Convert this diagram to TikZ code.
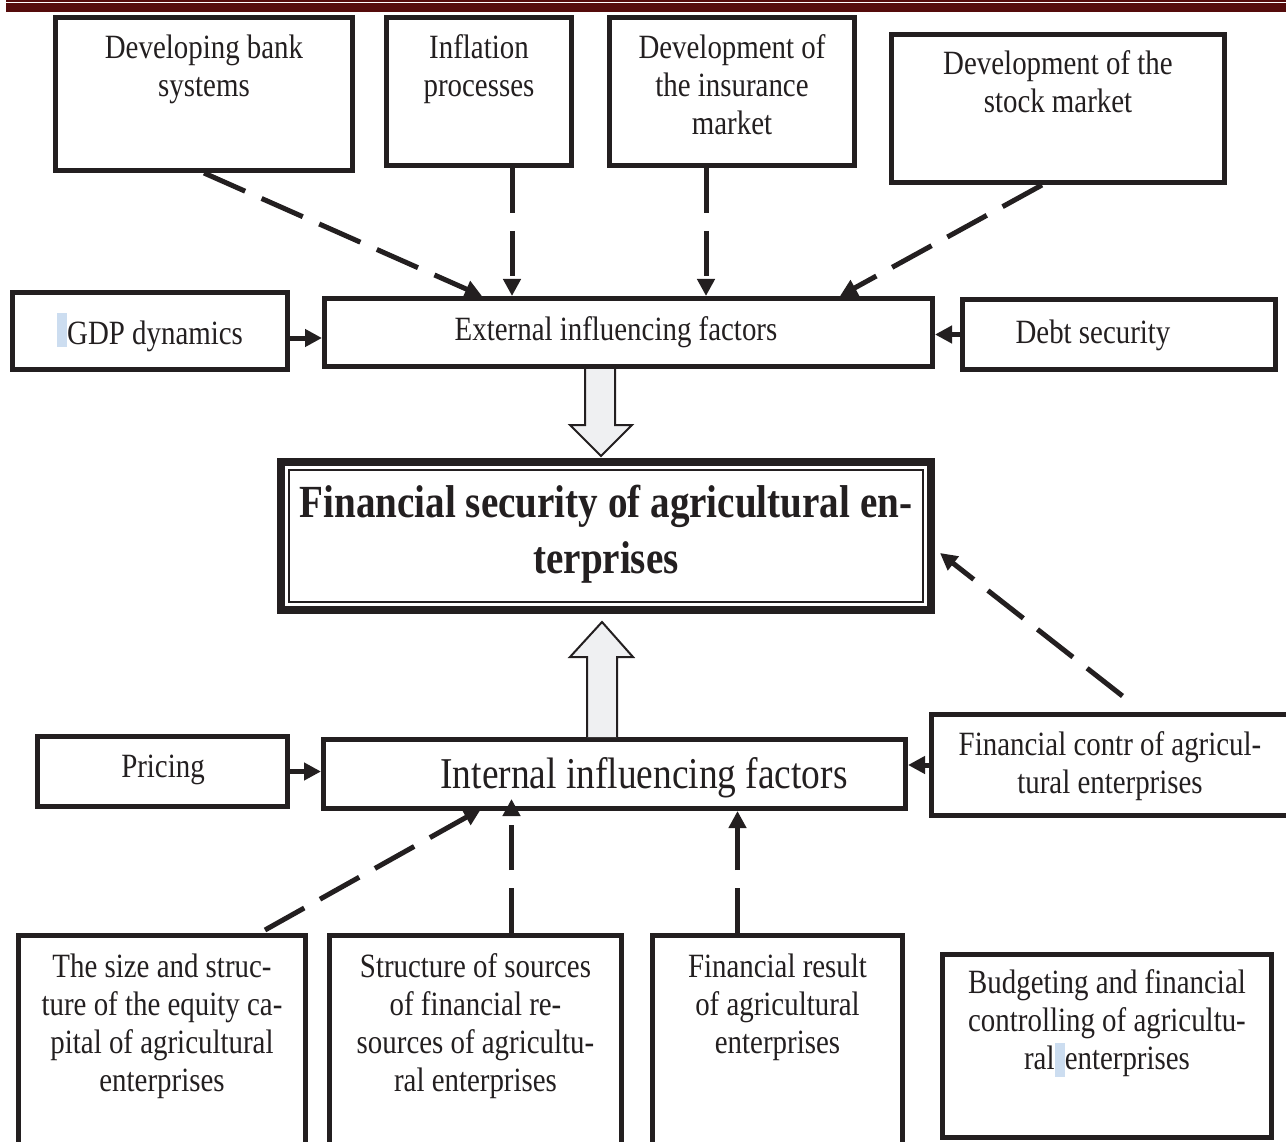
\documentclass[tikz,border=0pt]{standalone}
\usepackage{fontspec}
\setmainfont{Liberation Serif}[FakeStretch=0.85]
\usetikzlibrary{arrows.meta,calc}
\definecolor{ink}{HTML}{231F20}
\definecolor{barred}{HTML}{550C0C}
\definecolor{hlblue}{HTML}{CCDDF0}
\definecolor{hollowfill}{HTML}{EFF0F2}
\newcommand{\Tst}{\rule{0pt}{0.75em}}
\newcommand{\hlmark}[1]{\textcolor{hlblue}{\rule[#1]{0.3em}{1em}}}
\begin{document}
\begin{tikzpicture}[x=1pt,y=-1pt,
  box/.style={draw=ink,line width=5pt,fill=white,inner sep=0pt},
  txt/.style={text=ink,font=\fontsize{34}{38}\selectfont,align=center,inner sep=0pt,anchor=north},
  conn/.style={draw=ink,line width=5pt,-{Triangle[length=17pt,width=17pt]}},
  dconn/.style={conn,dash pattern=on 45pt off 18pt},
  hollowarrow/.style={draw=ink,line width=2pt,fill=hollowfill,line join=miter}]
\useasboundingbox (0,0) rectangle (1286,1142);
\fill[white] (0,0) rectangle (1286,1142);
% header rule
\fill[barred] (6,3.5) rectangle (1286,12);
\draw[barred,line width=1.2pt] (6,1) -- (1286,1);
% row 1
\node[box,minimum width=297pt,minimum height=153pt] (A) at (204,94) {};
\node[box,minimum width=185pt,minimum height=148pt] (B) at (479,91.5) {};
\node[box,minimum width=245pt,minimum height=148pt] (C) at (732,91.5) {};
\node[box,minimum width=333pt,minimum height=148pt] (D) at (1058,108.5) {};
% row 2
\node[box,minimum width=275pt,minimum height=77pt] (GDP) at (150,331) {};
\node[box,minimum width=608pt,minimum height=68pt] (Ext) at (628.5,332.5) {};
\node[box,minimum width=313pt,minimum height=70pt] (Debt) at (1119,334.5) {};
% centre
\node[draw=ink,line width=8pt,fill=white,inner sep=0pt,minimum width=650pt,minimum height=148pt] (Cen) at (606,536) {};
\draw[ink,line width=1.5pt] ($(Cen.north west)+(12,12)$) rectangle ($(Cen.south east)+(-12,-12)$);
% internal row
\node[box,minimum width=250pt,minimum height=70pt] (Pri) at (162.5,771.5) {};
\node[box,minimum width=582pt,minimum height=69pt] (Int) at (614.5,774) {};
\node[box,minimum width=358pt,minimum height=101pt] (FC) at (1110.5,765) {};
% bottom row
\node[box,minimum width=287pt,minimum height=227pt] (E) at (162,1049) {};
\node[box,minimum width=292pt,minimum height=227pt] (F) at (475.5,1049) {};
\node[box,minimum width=250pt,minimum height=227pt] (G) at (777.5,1049) {};
\node[box,minimum width=329pt,minimum height=183pt] (H) at (1107,1046) {};
% connectors to external
\draw[dconn] (A.south) -- ($(Ext.north west)+(160,0)$);
\coordinate (b1) at ($(B.south)+(33,0)$);
\draw[dconn] (b1) -- (b1 |- Ext.north);
\coordinate (c1) at ($(C.south)+(-26,0)$);
\draw[dconn] (c1) -- (c1 |- Ext.north);
\draw[dconn] ($(D.south)+(-16,0)$) -- ($(Ext.north east)+(-95,0)$);
\coordinate (g1) at ($(GDP.east)+(0,7)$);
\draw[conn] (g1) -- (g1 -| Ext.west);
\draw[conn] (Debt.west) -- (Debt.west -| Ext.east);
% hollow arrows
\coordinate (dt) at ($(Cen.north)+(-5,-2)$);
\draw[hollowarrow] ($(dt)+(-16,-87)$) -- ($(dt)+(-16,-31)$) -- ($(dt)+(-31,-31)$) -- (dt) -- ($(dt)+(31,-31)$) -- ($(dt)+(14,-31)$) -- ($(dt)+(14,-87)$);
\coordinate (ut) at ($(Cen.south)+(-4,8)$);
\draw[hollowarrow] ($(ut)+(-15,115)$) -- ($(ut)+(-15,35)$) -- ($(ut)+(-32,35)$) -- (ut) -- ($(ut)+(31,35)$) -- ($(ut)+(15,35)$) -- ($(ut)+(15,115)$);
% connectors to internal
\draw[conn] (Pri.east) -- (Pri.east -| Int.west);
\draw[conn] (FC.west) -- (FC.west -| Int.east);
\draw[dconn] ($(FC.north)+(12,-16)$) -- ($(Cen.east)+(5,17)$);
\draw[dconn] ($(E.north)+(103,-3)$) -- ($(Int.south west)+(160,-2)$);
\coordinate (f1) at ($(F.north)+(36,0)$);
\draw[dconn] (f1) -- ($(f1 |- Int.south)+(0,-12)$);
\coordinate (gg) at ($(G.north)+(-40,0)$);
\draw[dconn] (gg) -- (gg |- Int.south);
% texts
\node[txt] (At) at (204,32.5) {\Tst Developing bank\\systems};
\node[txt] (Bt) at (479,32.5) {\Tst Inflation\\processes};
\node[txt] (Ct) at (732,32.5) {\Tst Development of\\the insurance\\market};
\node[txt] (Dt) at (1058,48.5) {\Tst Development of the\\stock market};
\node[txt] (GDPt) at (150,312.5) {\Tst\hlmark{-0.06em}GDP dynamics};
\node[txt] (Extt) at (616,314.5) {\Tst External influencing factors};
\node[txt] (Debtt) at (1093,317.5) {\Tst Debt security};
\node[txt,font=\fontsize{46}{56}\selectfont\bfseries] (Cent) at (606,483) {\Tst Financial security of agricultural en-\\terprises};
\node[txt] (Prit) at (163,751.5) {\Tst Pricing};
\node[txt,font=\fontsize{44}{50}\selectfont] (Intt) at (644,755) {\Tst Internal influencing factors};
\node[txt] (FCt) at (1110,729.5) {\Tst Financial contr of agricul-\\tural enterprises};
\node[txt] (Et) at (162,951.5) {\Tst The size and struc-\\ture of the equity ca-\\pital of agricultural\\enterprises};
\node[txt] (Ft) at (475.5,951.5) {\Tst Structure of sources\\of financial re-\\sources of agricultu-\\ral enterprises};
\node[txt] (Gt) at (777.5,951.5) {\Tst Financial result\\of agricultural\\enterprises};
\node[txt] (Ht) at (1107,967.5) {\Tst Budgeting and financial\\controlling of agricultu-\\ral\hlmark{-0.24em}enterprises};
\end{tikzpicture}
\end{document}
